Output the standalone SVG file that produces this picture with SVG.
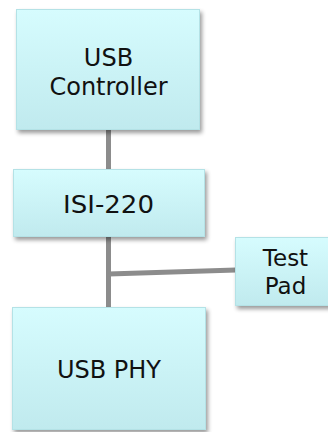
<svg xmlns="http://www.w3.org/2000/svg" width="328" height="432" viewBox="0 0 328 432">
  <defs>
    <linearGradient id="boxFill" x1="0" y1="0" x2="0" y2="1">
      <stop offset="0" stop-color="#d6fcfe"/>
      <stop offset="1" stop-color="#c0eaee"/>
    </linearGradient>
    <filter id="shadow" x="-10%" y="-10%" width="125%" height="130%">
      <feGaussianBlur in="SourceAlpha" stdDeviation="2"/>
      <feOffset dx="2" dy="3" result="b"/>
      <feComponentTransfer><feFuncA type="linear" slope="0.4"/></feComponentTransfer>
      <feMerge><feMergeNode/><feMergeNode in="SourceGraphic"/></feMerge>
    </filter>
  </defs>
  <style>
    .box { fill: url(#boxFill); stroke: #b4e2e6; stroke-width: 1; filter: url(#shadow); }
    .lbl { font-family: "DejaVu Sans", Verdana, sans-serif; font-size: 24px; fill: #111111; text-anchor: middle; }
    .conn { stroke: #8c8c8c; stroke-width: 5; fill: none; }
  </style>
  <rect width="328" height="432" fill="#ffffff"/>
  <g id="connectors">
    <line class="conn" x1="108.5" y1="128" x2="108.5" y2="170"/>
    <line class="conn" x1="108.5" y1="236" x2="108.5" y2="308"/>
    <line class="conn" x1="108.5" y1="274" x2="236" y2="270"/>
  </g>
  <g id="usb-controller">
    <rect class="box" x="16.5" y="9.5" width="183" height="120"/>
    <text class="lbl" x="108.5" y="66">USB</text>
    <text class="lbl" x="108.5" y="95">Controller</text>
  </g>
  <g id="isi-220">
    <rect class="box" x="13.5" y="169.5" width="191" height="67"/>
    <text class="lbl" x="108.5" y="213" textLength="91" lengthAdjust="spacingAndGlyphs">ISI-220</text>
  </g>
  <g id="test-pad">
    <rect class="box" x="235.5" y="237.5" width="100" height="68"/>
    <text class="lbl" x="285.5" y="266" style="font-size:23px">Test</text>
    <text class="lbl" x="285.5" y="294" style="font-size:23px">Pad</text>
  </g>
  <g id="usb-phy">
    <rect class="box" x="12.5" y="307.5" width="193" height="122"/>
    <text class="lbl" x="109" y="378">USB PHY</text>
  </g>
</svg>
